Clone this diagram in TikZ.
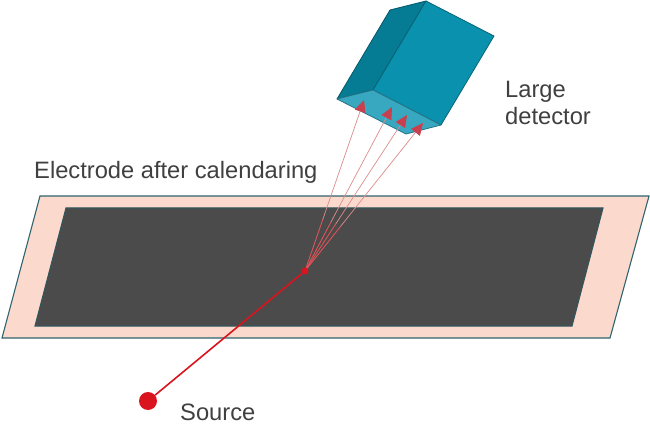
\documentclass[tikz,border=0pt]{standalone}
\usepackage{fontspec}
\setmainfont{Liberation Sans}
\usetikzlibrary{arrows.meta,calc}
\definecolor{edge}{HTML}{2F6470}
\definecolor{peach}{HTML}{FBDACD}
\definecolor{coat}{HTML}{4B4B4B}
\definecolor{coatedge}{HTML}{33565E}
\definecolor{front}{HTML}{0A91AD}
\definecolor{side}{HTML}{067C94}
\definecolor{bottomf}{HTML}{38A7C0}
\definecolor{beam}{HTML}{D9141E}
\definecolor{ray}{HTML}{DE8C8C}
\definecolor{tip}{HTML}{C8404F}
\definecolor{label}{HTML}{404040}
\tikzset{
  face/.style={draw=#1!70!black,fill=#1,line width=.8pt,line join=round},
  lbl/.style={text=label,font=\fontsize{23.7}{26.5}\selectfont,inner sep=0pt,align=left},
  rayline/.style={draw=ray,line width=.7pt,-{Triangle[length=12pt,width=11pt,color=tip]}},
  raycore/.style={draw=beam,line width=1.1pt,opacity=.4}
}
\begin{document}
\begin{tikzpicture}[x=1pt,y=-1pt]
\useasboundingbox (0,0) rectangle (650,438);
\fill[white] (0,0) rectangle (650,438);
% electrode
\draw[draw=edge,fill=peach,line width=1.1pt,line join=miter] (40,196) -- (649,196) -- (610,338) -- (2,338) -- cycle;
\draw[draw=coatedge,fill=coat,line width=1.1pt] (66,208) -- (603,208) -- (572,326) -- (35,326) -- cycle;
% detector
\draw[face=side] (337,99) -- (390,10) -- (426,1) -- (373,90) -- cycle;
\draw[face=front] (426,1) -- (494,36) -- (441,125) -- (373,90) -- cycle;
\draw[face=bottomf] (337,99) -- (373,90) -- (441,125) -- (406,134) -- cycle;
% beam
\coordinate (t1) at (364,100);
\coordinate (t2) at (392,107);
\coordinate (t3) at (407,115);
\coordinate (t4) at (423,123);
\node[circle,fill=beam,minimum size=7pt,inner sep=0pt] (hit) at (305,271) {};
\node[circle,fill=beam,minimum size=18pt,inner sep=0pt] (source) at (148,401) {};
\foreach \t in {t1,t2,t3,t4}{
  \draw[rayline] (hit) -- (\t);
  \draw[raycore] (hit) -- ($(hit)!.3!(\t)$);
}
\draw[beam,line width=1.6pt] (source) -- (hit);
% labels
\node[lbl,anchor=west] (elec) at (34,172) {Electrode after calendaring};
\node[lbl,anchor=north west] (det) at (505,81) {Large\\detector};
\node[lbl,anchor=west] (srclbl) at (180,412) {Source};
\end{tikzpicture}
\end{document}
